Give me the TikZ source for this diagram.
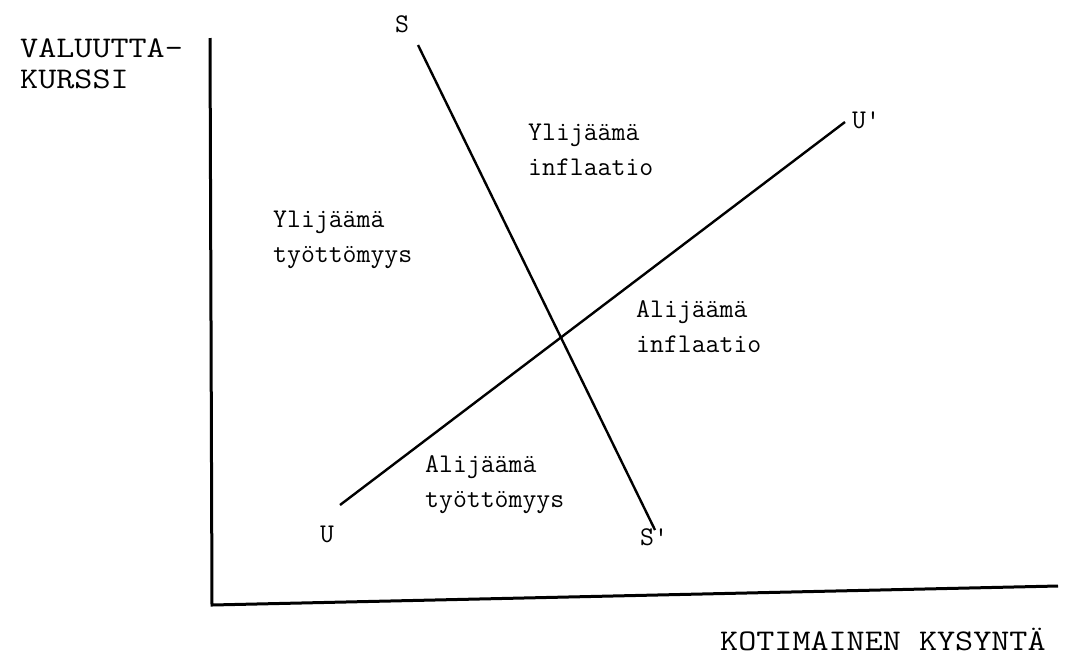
\documentclass[tikz,border=0pt]{standalone}
\usepackage{fontspec}
\begin{document}
\begin{tikzpicture}[x=1pt,y=-1pt,
  axis/.style={line width=3pt},
  curve/.style={line width=2.4pt},
  big/.style={font=\ttfamily\fontsize{30}{34}\selectfont, inner sep=0pt, anchor=base west},
  small/.style={font=\ttfamily\fontsize{27}{32}\selectfont, inner sep=0pt, anchor=base west},
]
\useasboundingbox (0,0) rectangle (1068,662);
\newcommand{\wid}[1]{\scalebox{1.17}[1]{#1}}
% axes
\coordinate (ytop) at (210,38);
\coordinate (origin) at (212,605);
\coordinate (xend) at (1058,586);
\draw[axis] (ytop) -- (origin) -- (xend);
% lines
\coordinate (s1) at (418,45);
\coordinate (s2) at (655,530);
\coordinate (u1) at (340,505);
\coordinate (u2) at (845,122);
\draw[curve] (s1) -- (s2);
\draw[curve] (u1) -- (u2);
% labels
\node[big] (yl1) at (20,57) {\wid{VALUUTTA-}};
\node[big] (yl2) at (20,88) {\wid{KURSSI}};
\node[big] (xl) at (720,650) {\wid{KOTIMAINEN KYSYNTÄ}};
\node[small] (sl) at (395,32) {S};
\node[small] (spl) at (640,545) {S'};
\node[small] (ul) at (320,542) {U};
\node[small] (upl) at (852,128) {U'};
\node[small] (a1) at (528,140) {Ylijäämä};
\node[small] (a2) at (528,175) {inflaatio};
\node[small] (b1) at (273,227) {Ylijäämä};
\node[small] (b2) at (273,262) {työttömyys};
\node[small] (c1) at (636,317) {Alijäämä};
\node[small] (c2) at (636,352) {inflaatio};
\node[small] (d1) at (425,472) {Alijäämä};
\node[small] (d2) at (425,507) {työttömyys};
\end{tikzpicture}
\end{document}
